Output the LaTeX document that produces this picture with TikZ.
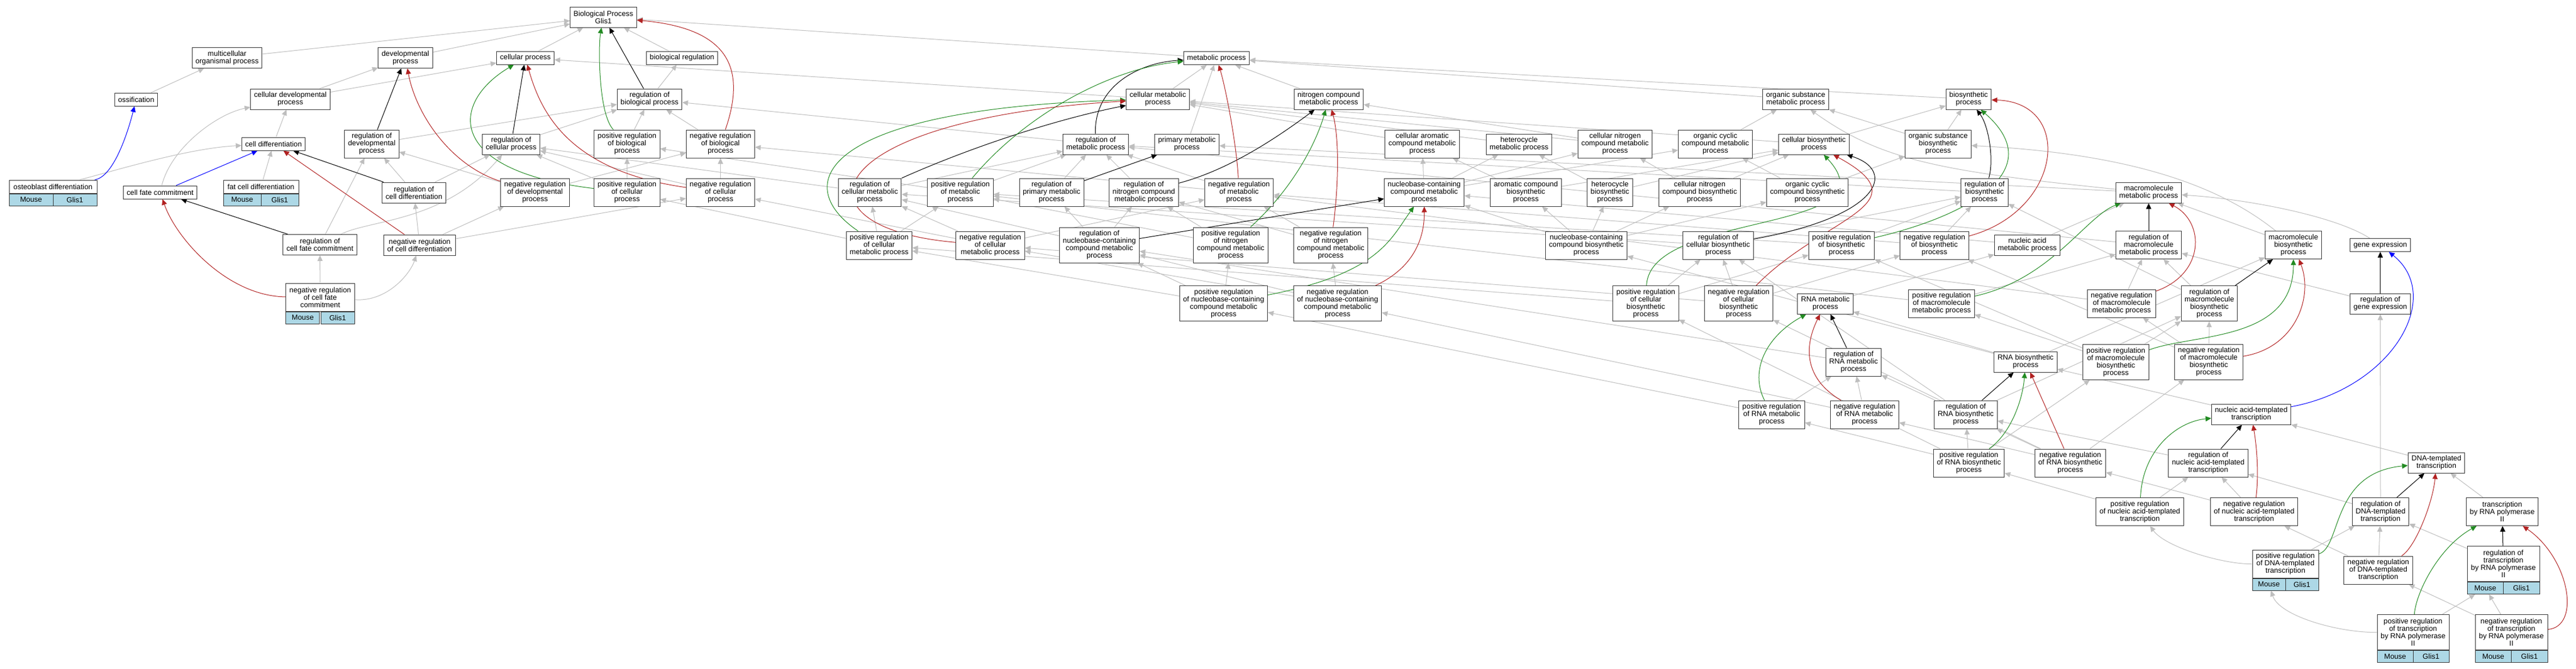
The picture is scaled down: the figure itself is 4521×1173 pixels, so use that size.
\documentclass[tikz,border=0pt]{standalone}
\usepackage{fontspec}
\setmainfont{Liberation Sans}
\usetikzlibrary{arrows.meta}
\definecolor{isagray}{HTML}{BEBEBE}
\definecolor{posgreen}{HTML}{228B22}
\definecolor{negred}{HTML}{B22222}
\definecolor{genecell}{HTML}{ADD8E6}
\pgfdeclarelayer{bg}
\pgfsetlayers{bg,main}
\newcommand{\gofont}{\fontsize{12.8pt}{13pt}\selectfont}
% species / gene row under an annotated term
\newcommand{\genetab}[2]{%
  \node[cell, minimum width=#2, anchor=north west] (#1-m) at (#1.south west) {Mouse};
  \node[cell, minimum width=#2, anchor=north east] (#1-g) at (#1.south east) {Glis1};
}

\begin{document}
\begin{tikzpicture}[x=1pt, y=-1pt,
  go/.style={draw=black!80, line width=1pt, fill=white, align=center, inner xsep=6pt, inner ysep=2pt, font=\gofont},
  oneline/.style={minimum height=23pt},
  twoline/.style={minimum height=36pt},
  threeline/.style={minimum height=49pt},
  fourline/.style={minimum height=62pt},
  cell/.style={draw=black!80, line width=1pt, fill=genecell, minimum height=21pt, inner sep=1pt, font=\gofont},
  tip/.style={-{Triangle[length=10pt,width=9pt]}},
  isa/.style={tip, draw=isagray, line width=1pt},
  rg/.style={tip, draw=black, line width=1pt},
  pr/.style={tip, draw=posgreen, line width=1pt},
  nr/.style={tip, draw=negred, line width=1pt},
  prt/.style={tip, draw=blue, line width=1pt}]

  \useasboundingbox (0,0) rectangle (4521,1173);

  % row 1 and 2
  \node[go, twoline] (bp) at (1059,30) {Biological Process\\Glis1};
  \node[go, twoline] (mop) at (398.5,101.5) {multicellular\\organismal process};
  \node[go, twoline] (dev) at (711.5,101.5) {developmental\\process};
  \node[go, oneline] (cp) at (922,101.5) {cellular process};
  \node[go, oneline] (breg) at (1197,101.5) {biological regulation};
  \node[go, oneline] (mp) at (2135,102) {metabolic process};

  % row 3
  \node[go, oneline] (oss) at (239,174.5) {ossification};
  \node[go, twoline] (cdp) at (509.5,174) {cellular developmental\\process};
  \node[go, twoline] (rbp) at (1140,174) {regulation of\\biological process};
  \node[go, twoline] (cmp) at (2032,174) {cellular metabolic\\process};
  \node[go, twoline] (ncmp) at (2332,174) {nitrogen compound\\metabolic process};
  \node[go, twoline] (osmp) at (3151.5,174) {organic substance\\metabolic process};
  \node[go, twoline] (bsp) at (3455,174) {biosynthetic\\process};

  % row 4
  \node[go, oneline] (cdiff) at (480,252.5) {cell differentiation};
  \node[go, threeline] (rdev) at (652.5,252.5) {regulation of\\developmental\\process};
  \node[go, twoline] (rcp) at (897,253) {regulation of\\cellular process};
  \node[go, threeline] (prbp) at (1100.5,252.5) {positive regulation\\of biological\\process};
  \node[go, threeline] (nrbp) at (1264.5,252.5) {negative regulation\\of biological\\process};
  \node[go, twoline] (rmp) at (1923,253) {regulation of\\metabolic process};
  \node[go, twoline] (pmp) at (2083,253) {primary metabolic\\process};
  \node[go, threeline] (camp) at (2496,252.5) {cellular aromatic\\compound metabolic\\process};
  \node[go, twoline] (hmp) at (2666,253) {heterocycle\\metabolic process};
  \node[go, threeline] (cncmp) at (2834.5,252.5) {cellular nitrogen\\compound metabolic\\process};
  \node[go, threeline] (occmp) at (3010.5,252.5) {organic cyclic\\compound metabolic\\process};
  \node[go, twoline] (cbp) at (3183.5,253) {cellular biosynthetic\\process};
  \node[go, threeline] (osbp) at (3401.5,252.5) {organic substance\\biosynthetic\\process};

  % row 5
  \node[go, oneline, minimum width=154pt] (ost) at (93,327.5) {osteoblast differentiation};
  \genetab{ost}{77pt}
  \node[go, oneline] (cfc) at (281,337.5) {cell fate commitment};
  \node[go, oneline, minimum width=132pt] (fat) at (458,327.5) {fat cell differentiation};
  \genetab{fat}{66pt}
  \node[go, twoline] (rcdiff) at (726.5,338) {regulation of\\cell differentiation};
  \node[go, threeline] (nrdev) at (939,337.5) {negative regulation\\of developmental\\process};
  \node[go, threeline] (prcp) at (1100.5,337.5) {positive regulation\\of cellular\\process};
  \node[go, threeline] (nrcp) at (1264.5,337.5) {negative regulation\\of cellular\\process};
  \node[go, threeline] (rcmp) at (1526.5,337.5) {regulation of\\cellular metabolic\\process};
  \node[go, threeline] (prmp) at (1685.5,337.5) {positive regulation\\of metabolic\\process};
  \node[go, threeline] (rpmp) at (1845.5,337.5) {regulation of\\primary metabolic\\process};
  \node[go, threeline] (rncmp) at (2007.5,337.5) {regulation of\\nitrogen compound\\metabolic process};
  \node[go, threeline] (nrmp) at (2174.5,337.5) {negative regulation\\of metabolic\\process};
  \node[go, threeline] (nbcmp) at (2499.5,337.5) {nucleobase-containing\\compound metabolic\\process};
  \node[go, threeline] (acbp) at (2678,337.5) {aromatic compound\\biosynthetic\\process};
  \node[go, threeline] (hbp) at (2825.5,337.5) {heterocycle\\biosynthetic\\process};
  \node[go, threeline] (cncbp) at (2983,337.5) {cellular nitrogen\\compound biosynthetic\\process};
  \node[go, threeline] (occbp) at (3172,337.5) {organic cyclic\\compound biosynthetic\\process};
  \node[go, threeline] (rbsp) at (3483,337.5) {regulation of\\biosynthetic\\process};
  \node[go, twoline] (mmp) at (3771,338) {macromolecule\\metabolic process};

  % row 6
  \node[go, twoline] (rcfc) at (561.5,429.5) {regulation of\\cell fate commitment};
  \node[go, twoline] (nrcdiff) at (736.5,430) {negative regulation\\of cell differentiation};
  \node[go, threeline] (prcmp) at (1543,430.5) {positive regulation\\of cellular\\metabolic process};
  \node[go, threeline] (nrcmp) at (1738,430.5) {negative regulation\\of cellular\\metabolic process};
  \node[go, fourline] (rnbcmp) at (1929.5,430) {regulation of\\nucleobase-containing\\compound metabolic\\process};
  \node[go, fourline] (prncmp) at (2160,430) {positive regulation\\of nitrogen\\compound metabolic\\process};
  \node[go, fourline] (nrncmp) at (2335.5,430) {negative regulation\\of nitrogen\\compound metabolic\\process};
  \node[go, threeline] (nbcbp) at (2784,430.5) {nucleobase-containing\\compound biosynthetic\\process};
  \node[go, threeline] (rcbp) at (3015.5,430.5) {regulation of\\cellular biosynthetic\\process};
  \node[go, threeline] (prbsp) at (3232,430.5) {positive regulation\\of biosynthetic\\process};
  \node[go, threeline] (nrbsp) at (3395,430.5) {negative regulation\\of biosynthetic\\process};
  \node[go, twoline] (namp) at (3558,430) {nucleic acid\\metabolic process};
  \node[go, threeline] (rmmp) at (3771,430) {regulation of\\macromolecule\\metabolic process};
  \node[go, threeline] (mbp) at (4025,430) {macromolecule\\biosynthetic\\process};
  \node[go, oneline] (gexp) at (4177.5,430) {gene expression};

  % row 7
  \node[go, threeline, minimum width=118pt] (nrcfc) at (562,521.5) {negative regulation\\of cell fate\\commitment};
  \genetab{nrcfc}{59pt}
  \node[go, fourline] (prnbcmp) at (2147.5,532.5) {positive regulation\\of nucleobase-containing\\compound metabolic\\process};
  \node[go, fourline] (nrnbcmp) at (2347.5,532.5) {negative regulation\\of nucleobase-containing\\compound metabolic\\process};
  \node[go, fourline] (prcbp) at (2888.5,532.5) {positive regulation\\of cellular\\biosynthetic\\process};
  \node[go, fourline] (nrcbp) at (3051.5,532.5) {negative regulation\\of cellular\\biosynthetic\\process};
  \node[go, twoline] (rnamp) at (3203.5,533) {RNA metabolic\\process};
  \node[go, threeline] (prmmp) at (3407.5,532.5) {positive regulation\\of macromolecule\\metabolic process};
  \node[go, threeline] (nrmmp) at (3723.5,532.5) {negative regulation\\of macromolecule\\metabolic process};
  \node[go, fourline] (rmbp) at (3877.5,532.5) {regulation of\\macromolecule\\biosynthetic\\process};
  \node[go, twoline] (rgexp) at (4177.5,533) {regulation of\\gene expression};

  % row 8 and below
  \node[go, threeline] (rrnamp) at (3253,635.5) {regulation of\\RNA metabolic\\process};
  \node[go, twoline] (rnabp) at (3555,635) {RNA biosynthetic\\process};
  \node[go, fourline] (prmbp) at (3713.5,635.5) {positive regulation\\of macromolecule\\biosynthetic\\process};
  \node[go, fourline] (nrmbp) at (3876.5,635) {negative regulation\\of macromolecule\\biosynthetic\\process};
  \node[go, threeline] (prrnamp) at (3109.5,727.5) {positive regulation\\of RNA metabolic\\process};
  \node[go, threeline] (nrrnamp) at (3272.5,727.5) {negative regulation\\of RNA metabolic\\process};
  \node[go, threeline] (rrnabp) at (3450,727.5) {regulation of\\RNA biosynthetic\\process};
  \node[go, twoline] (nat) at (3951,727) {nucleic acid-templated\\transcription};
  \node[go, threeline] (prrnabp) at (3455.5,812.5) {positive regulation\\of RNA biosynthetic\\process};
  \node[go, threeline] (nrrnabp) at (3633.5,812.5) {negative regulation\\of RNA biosynthetic\\process};
  \node[go, threeline] (rnat) at (3875.5,812.5) {regulation of\\nucleic acid-templated\\transcription};
  \node[go, twoline] (dt) at (4276,812) {DNA-templated\\transcription};
  \node[go, threeline] (prnat) at (3755.5,898) {positive regulation\\of nucleic acid-templated\\transcription};
  \node[go, threeline] (nrnat) at (3956,898) {negative regulation\\of nucleic acid-templated\\transcription};
  \node[go, threeline] (rdt) at (4178,898) {regulation of\\DNA-templated\\transcription};
  \node[go, threeline] (tpol) at (4391.5,898) {transcription\\by RNA polymerase\\II};
  \node[go, threeline, minimum width=116pt] (prdt) at (4011,989.5) {positive regulation\\of DNA-templated\\transcription};
  \genetab{prdt}{58pt}
  \node[go, threeline] (nrdt) at (4174,1000.5) {negative regulation\\of DNA-templated\\transcription};
  \node[go, fourline, minimum width=127pt] (rtpol) at (4393.5,989.5) {regulation of\\transcription\\by RNA polymerase\\II};
  \genetab{rtpol}{63.5pt}
  \node[go, fourline, minimum width=126pt] (prtpol) at (4235,1109.5) {positive regulation\\of transcription\\by RNA polymerase\\II};
  \genetab{prtpol}{63pt}
  \node[go, fourline, minimum width=127pt] (nrtpol) at (4407.5,1109.5) {negative regulation\\of transcription\\by RNA polymerase\\II};
  \genetab{nrtpol}{63.5pt}

  \begin{pgfonlayer}{bg}
  \fill[white] (0,0) rectangle (4521,1173);

  % is_a
  \draw[isa] (mop) -- (bp);
  \draw[isa] (dev) -- (bp);
  \draw[isa] (cp) -- (bp);
  \draw[isa] (breg) -- (bp);
  \draw[isa] (mp) -- (bp);
  \draw[isa] (oss) -- (mop);
  \draw[isa] (cdp) -- (dev);
  \draw[isa] (cdp) -- (cp);
  \draw[isa] (cdiff) -- (cdp);
  \draw[isa] (cfc) .. controls (300,260) and (380,200) .. (cdp);
  \draw[isa] (ost) .. controls (200,300) and (330,260) .. (cdiff);
  \draw[isa] (fat) -- (cdiff);
  \draw[isa] (rbp) -- (breg);
  \draw[isa] (rdev) -- (rbp);
  \draw[isa] (rcp) -- (rbp);
  \draw[isa] (prbp) -- (rbp);
  \draw[isa] (nrbp) -- (rbp);
  \draw[isa] (rcdiff) -- (rdev);
  \draw[isa] (rcdiff) -- (rcp);
  \draw[isa] (rcfc) -- (rdev);
  \draw[isa] (rcfc) .. controls (650,385) and (780,390) .. (rcp);
  \draw[isa] (nrcdiff) -- (rcdiff);
  \draw[isa] (nrcdiff) -- (nrdev);
  \draw[isa] (nrcdiff) -- (nrcp);
  \draw[isa] (nrcfc) -- (rcfc);
  \draw[isa] (nrcfc) .. controls (680,530) and (720,480) .. (nrcdiff);
  \draw[isa] (nrdev) -- (rdev);
  \draw[isa] (nrdev) -- (nrbp);
  \draw[isa] (prcp) -- (rcp);
  \draw[isa] (prcp) -- (prbp);
  \draw[isa] (nrcp) -- (rcp);
  \draw[isa] (nrcp) -- (nrbp);
  \draw[isa] (cmp) -- (mp);
  \draw[isa] (cmp) -- (cp);
  \draw[isa] (pmp) -- (mp);
  \draw[isa] (ncmp) -- (mp);
  \draw[isa] (osmp) -- (mp);
  \draw[isa] (bsp) -- (mp);
  \draw[isa] (rmp) -- (rbp);
  \draw[isa] (rcmp) -- (rmp);
  \draw[isa] (rcmp) -- (rcp);
  \draw[isa] (prmp) -- (rmp);
  \draw[isa] (prmp) -- (prbp);
  \draw[isa] (rpmp) -- (rmp);
  \draw[isa] (rncmp) -- (rmp);
  \draw[isa] (nrmp) -- (rmp);
  \draw[isa] (nrmp) -- (nrbp);
  \draw[isa] (prcmp) -- (rcmp);
  \draw[isa] (prcmp) -- (prmp);
  \draw[isa] (prcmp) -- (prcp);
  \draw[isa] (nrcmp) -- (rcmp);
  \draw[isa] (nrcmp) -- (nrmp);
  \draw[isa] (nrcmp) -- (nrcp);
  \draw[isa] (rnbcmp) -- (rcmp);
  \draw[isa] (rnbcmp) -- (rpmp);
  \draw[isa] (rnbcmp) -- (rncmp);
  \draw[isa] (prncmp) -- (rncmp);
  \draw[isa] (prncmp) -- (prmp);
  \draw[isa] (nrncmp) -- (rncmp);
  \draw[isa] (nrncmp) -- (nrmp);
  \draw[isa] (prnbcmp) -- (rnbcmp);
  \draw[isa] (prnbcmp) -- (prcmp);
  \draw[isa] (prnbcmp) -- (prncmp);
  \draw[isa] (nrnbcmp) -- (rnbcmp);
  \draw[isa] (nrnbcmp) -- (nrcmp);
  \draw[isa] (nrnbcmp) -- (nrncmp);
  \draw[isa] (camp) -- (cmp);
  \draw[isa] (hmp) -- (cmp);
  \draw[isa] (cncmp) -- (ncmp);
  \draw[isa] (cncmp) -- (cmp);
  \draw[isa] (occmp) -- (osmp);
  \draw[isa] (nbcmp) -- (camp);
  \draw[isa] (nbcmp) -- (hmp);
  \draw[isa] (nbcmp) -- (cncmp);
  \draw[isa] (nbcmp) -- (occmp);
  \draw[isa] (acbp) -- (camp);
  \draw[isa] (acbp) -- (cbp);
  \draw[isa] (hbp) -- (hmp);
  \draw[isa] (hbp) -- (cbp);
  \draw[isa] (cncbp) -- (cncmp);
  \draw[isa] (cncbp) -- (cbp);
  \draw[isa] (occbp) -- (occmp);
  \draw[isa] (occbp) -- (osbp);
  \draw[isa] (cbp) -- (bsp);
  \draw[isa] (cbp) -- (cmp);
  \draw[isa] (osbp) -- (bsp);
  \draw[isa] (osbp) -- (osmp);
  \draw[isa] (nbcbp) -- (nbcmp);
  \draw[isa] (nbcbp) -- (acbp);
  \draw[isa] (nbcbp) -- (hbp);
  \draw[isa] (nbcbp) -- (cncbp);
  \draw[isa] (nbcbp) -- (occbp);
  \draw[isa] (rbsp) -- (rmp);
  \draw[isa] (rcbp) -- (rbsp);
  \draw[isa] (rcbp) -- (rcmp);
  \draw[isa] (prbsp) -- (rbsp);
  \draw[isa] (prbsp) -- (prmp);
  \draw[isa] (nrbsp) -- (rbsp);
  \draw[isa] (nrbsp) -- (nrmp);
  \draw[isa] (prcbp) -- (rcbp);
  \draw[isa] (prcbp) -- (prbsp);
  \draw[isa] (prcbp) -- (prcmp);
  \draw[isa] (nrcbp) -- (rcbp);
  \draw[isa] (nrcbp) -- (nrbsp);
  \draw[isa] (nrcbp) -- (nrcmp);
  \draw[isa] (mmp) .. controls (3400,300) and (3300,280) .. (osmp);
  \draw[isa] (mmp) -- (pmp);
  \draw[isa] (rmmp) -- (rmp);
  \draw[isa] (prmmp) -- (rmmp);
  \draw[isa] (prmmp) -- (prmp);
  \draw[isa] (nrmmp) -- (rmmp);
  \draw[isa] (nrmmp) -- (nrmp);
  \draw[isa] (namp) -- (nbcmp);
  \draw[isa] (namp) -- (mmp);
  \draw[isa] (rnamp) -- (namp);
  \draw[isa] (mbp) -- (mmp);
  \draw[isa] (mbp) .. controls (3900,330) and (3750,270) .. (osbp);
  \draw[isa] (gexp) .. controls (4100,380) and (3950,350) .. (mmp);
  \draw[isa] (rgexp) -- (rmmp);
  \draw[isa] (rmbp) -- (rmmp);
  \draw[isa] (rmbp) -- (rbsp);
  \draw[isa] (rrnamp) -- (rnbcmp);
  \draw[isa] (prrnamp) -- (rrnamp);
  \draw[isa] (prrnamp) -- (prnbcmp);
  \draw[isa] (nrrnamp) -- (rrnamp);
  \draw[isa] (nrrnamp) -- (nrnbcmp);
  \draw[isa] (rnabp) -- (rnamp);
  \draw[isa] (rnabp) -- (nbcbp);
  \draw[isa] (rnabp) -- (mbp);
  \draw[isa] (rrnabp) -- (rrnamp);
  \draw[isa] (rrnabp) -- (rcbp);
  \draw[isa] (rrnabp) -- (rmbp);
  \draw[isa] (prrnabp) -- (rrnabp);
  \draw[isa] (prrnabp) -- (prrnamp);
  \draw[isa] (prrnabp) -- (prcbp);
  \draw[isa] (prrnabp) -- (prmbp);
  \draw[isa] (nrrnabp) -- (rrnabp);
  \draw[isa] (nrrnabp) -- (nrrnamp);
  \draw[isa] (nrrnabp) -- (nrcbp);
  \draw[isa] (nrrnabp) -- (nrmbp);
  \draw[isa] (prmbp) -- (rmbp);
  \draw[isa] (prmbp) -- (prmmp);
  \draw[isa] (prmbp) -- (prbsp);
  \draw[isa] (nrmbp) -- (rmbp);
  \draw[isa] (nrmbp) -- (nrmmp);
  \draw[isa] (nrmbp) -- (nrbsp);
  \draw[isa] (nat) -- (rnabp);
  \draw[isa] (rnat) -- (rrnabp);
  \draw[isa] (prnat) -- (rnat);
  \draw[isa] (prnat) -- (prrnabp);
  \draw[isa] (nrnat) -- (rnat);
  \draw[isa] (nrnat) -- (nrrnabp);
  \draw[isa] (dt) -- (nat);
  \draw[isa] (rdt) -- (rnat);
  \draw[isa] (rdt) -- (rgexp);
  \draw[isa] (tpol) -- (dt);
  \draw[isa] (prdt) -- (rdt);
  \draw[isa] (prdt) .. controls (3900,990) and (3800,960) .. (prnat);
  \draw[isa] (nrdt) -- (rdt);
  \draw[isa] (nrdt) -- (nrnat);
  \draw[isa] (rtpol) -- (rdt);
  \draw[isa] (prtpol) -- (rtpol-m);
  \draw[isa] (prtpol) .. controls (4100,1110) and (4000,1080) .. (prdt-m);
  \draw[isa] (nrtpol) -- (rtpol-m);
  \draw[isa] (nrtpol) -- (nrdt);

  % part of
  \draw[prt] (ost) .. controls (200,310) and (225,230) .. (oss);
  \draw[prt] (cfc) -- (cdiff);
  \draw[prt] (nat) .. controls (4200,680) and (4290,520) .. (gexp);

  % regulates
  \draw[rg] (rdev) -- (dev);
  \draw[rg] (rcdiff) -- (cdiff);
  \draw[rg] (rcfc) -- (cfc);
  \draw[rg] (rcp) -- (cp);
  \draw[rg] (rbp) -- (bp);
  \draw[rg] (rmp) .. controls (1920,150) and (2000,110) .. (mp);
  \draw[rg] (rcmp) .. controls (1700,260) and (1850,210) .. (cmp);
  \draw[rg] (rpmp) -- (pmp);
  \draw[rg] (rncmp) .. controls (2150,300) and (2230,250) .. (ncmp);
  \draw[rg] (rnbcmp) -- (nbcmp);
  \draw[rg] (rcbp) .. controls (3300,380) and (3330,300) .. (cbp);
  \draw[rg] (rbsp) .. controls (3500,280) and (3490,220) .. (bsp);
  \draw[rg] (rmmp) -- (mmp);
  \draw[rg] (rmbp) -- (mbp);
  \draw[rg] (rgexp) -- (gexp);
  \draw[rg] (rrnamp) -- (rnamp);
  \draw[rg] (rrnabp) -- (rnabp);
  \draw[rg] (rnat) -- (nat);
  \draw[rg] (rdt) -- (dt);
  \draw[rg] (rtpol) -- (tpol);

  % positively regulates
  \draw[pr] (prbp) .. controls (1050,200) and (1050,80) .. (bp);
  \draw[pr] (prcp) .. controls (780,300) and (790,180) .. (cp);
  \draw[pr] (prmp) .. controls (1800,200) and (1950,120) .. (mp);
  \draw[pr] (prcmp) .. controls (1380,320) and (1450,190) .. (cmp);
  \draw[pr] (prncmp) .. controls (2270,330) and (2310,250) .. (ncmp);
  \draw[pr] (prnbcmp) .. controls (2420,480) and (2440,420) .. (nbcmp);
  \draw[pr] (prcbp) .. controls (2895,370) and (3330,410) .. (cbp);
  \draw[pr] (prbsp) .. controls (3450,380) and (3600,300) .. (bsp);
  \draw[pr] (prmmp) .. controls (3600,490) and (3660,380) .. (mmp);
  \draw[pr] (prmbp) .. controls (3850,585) and (4025,600) .. (mbp);
  \draw[pr] (prrnamp) .. controls (3070,650) and (3100,590) .. (rnamp);
  \draw[pr] (prrnabp) .. controls (3530,760) and (3550,700) .. (rnabp);
  \draw[pr] (prnat) .. controls (3760,790) and (3820,740) .. (nat);
  \draw[pr] (prdt) .. controls (4110,960) and (4090,830) .. (dt);
  \draw[pr] (prtpol) .. controls (4240,1040) and (4280,960) .. (tpol);

  % negatively regulates
  \draw[nr] (nrbp) .. controls (1310,120) and (1280,50) .. (bp);
  \draw[nr] (nrdev) .. controls (790,290) and (730,200) .. (dev);
  \draw[nr] (nrcdiff) -- (cdiff);
  \draw[nr] (nrcfc) .. controls (400,520) and (310,420) .. (cfc);
  \draw[nr] (nrcp) .. controls (1000,300) and (950,200) .. (cp);
  \draw[nr] (nrmp) .. controls (2170,250) and (2150,150) .. (mp);
  \draw[nr] (nrcmp) .. controls (1380,400) and (1430,210) .. (cmp);
  \draw[nr] (nrncmp) .. controls (2350,320) and (2350,240) .. (ncmp);
  \draw[nr] (nrnbcmp) .. controls (2480,470) and (2500,420) .. (nbcmp);
  \draw[nr] (nrcbp) .. controls (3200,380) and (3380,360) .. (cbp);
  \draw[nr] (nrbsp) .. controls (3620,370) and (3640,180) .. (bsp);
  \draw[nr] (nrmmp) .. controls (3870,480) and (3870,390) .. (mmp);
  \draw[nr] (nrmbp) .. controls (4030,610) and (4060,520) .. (mbp);
  \draw[nr] (nrrnamp) .. controls (3160,660) and (3170,600) .. (rnamp);
  \draw[nr] (nrrnabp) -- (rnabp);
  \draw[nr] (nrnat) .. controls (3965,830) and (3960,780) .. (nat);
  \draw[nr] (nrdt) .. controls (4240,960) and (4270,880) .. (dt);
  \draw[nr] (nrtpol) .. controls (4530,1100) and (4510,980) .. (tpol);
  \end{pgfonlayer}

\end{tikzpicture}
\end{document}
